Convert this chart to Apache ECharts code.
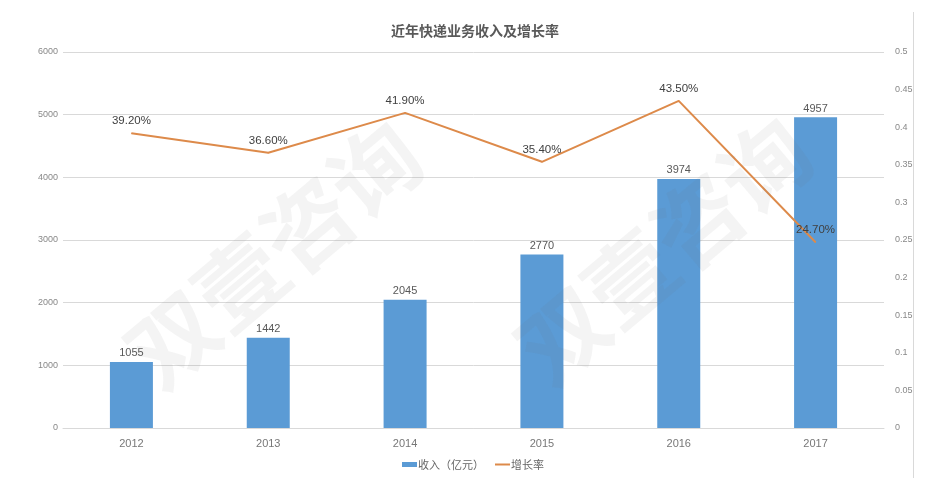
<!DOCTYPE html>
<html>
<head>
    <meta charset="utf-8">
    <title>近年快递业务收入及增长率</title>
    <script src="https://cdn.jsdelivr.net/npm/echarts@6/dist/echarts.min.js"></script>
    <style>
        html, body { margin: 0; padding: 0; background: #fff; }
    </style>
</head>
<body>
<div id="main" style="width: 936px;height: 499px;"></div>

<script type="text/javascript">
    var years = ['2012', '2013', '2014', '2015', '2016', '2017'];
    var income = [1055, 1442, 2045, 2770, 3974, 4957];
    var growth = [0.392, 0.366, 0.419, 0.354, 0.435, 0.247];
    var chartTitle = '近年快递业务收入及增长率';
    var incomeName = '收入（亿元）';
    var growthName = '增长率';
    var watermark = '双壹咨询';

    var latin = '"Liberation Sans", "Noto Sans CJK SC", sans-serif';
    var cjk = '"Noto Sans CJK SC", sans-serif';

    var myChart = echarts.init(document.getElementById('main'));
    myChart.setOption({
        animation: false,
        backgroundColor: '#fff',
        title: {
            text: chartTitle,
            left: 470,
            top: 19,
            textAlign: 'center',
            textStyle: {fontSize: 14, fontWeight: 'bold', color: '#595959', fontFamily: cjk}
        },
        legend: {
            left: 397,
            top: 454,
            itemGap: 10,
            itemWidth: 15,
            itemHeight: 5,
            textStyle: {fontSize: 11, color: '#666', fontFamily: cjk, padding: [0, 0, 0, -4]},
            data: [
                {name: incomeName, icon: 'rect'},
                {name: growthName, itemStyle: {opacity: 0}}
            ]
        },
        grid: {left: 63, right: 52, top: 52, bottom: 71},
        xAxis: {
            type: 'category',
            data: years,
            axisLine: {lineStyle: {color: '#d9d9d9'}},
            axisTick: {show: false},
            axisLabel: {fontSize: 11, color: '#777', margin: 10, fontFamily: latin}
        },
        yAxis: [
            {
                type: 'value',
                min: 0,
                max: 6000,
                interval: 1000,
                axisLine: {show: false},
                axisTick: {show: false},
                splitLine: {lineStyle: {color: '#d9d9d9'}},
                axisLabel: {
                    fontSize: 9,
                    color: '#888',
                    margin: 5,
                    padding: [2, 0, 0, 0],
                    fontFamily: latin,
                    formatter: function (v) {
                        return String(v);
                    }
                }
            },
            {
                type: 'value',
                min: 0,
                max: 0.5,
                interval: 0.05,
                axisLine: {show: false},
                axisTick: {show: false},
                splitLine: {show: false},
                axisLabel: {fontSize: 9, color: '#888', margin: 11, padding: [2, 0, 0, 0], fontFamily: latin}
            }
        ],
        series: [
            {
                name: incomeName,
                type: 'bar',
                data: income,
                barWidth: 43,
                itemStyle: {color: '#5B9BD5'},
                label: {
                    show: true,
                    position: 'top',
                    distance: 3,
                    fontSize: 11,
                    color: '#595959',
                    fontFamily: latin
                }
            },
            {
                name: growthName,
                type: 'line',
                yAxisIndex: 1,
                data: growth,
                showSymbol: true,
                symbol: 'circle',
                symbolSize: 1,
                lineStyle: {color: '#DD8A4A', width: 2},
                itemStyle: {color: '#DD8A4A'},
                label: {
                    show: true,
                    position: 'top',
                    distance: 6,
                    fontSize: 11.5,
                    color: '#404040',
                    fontFamily: latin,
                    formatter: function (p) {
                        return (p.value * 100).toFixed(2) + '%';
                    }
                }
            }
        ],
        graphic: [
            // 右侧竖线
            {
                type: 'line',
                shape: {x1: 913.5, y1: 12, x2: 913.5, y2: 478},
                style: {stroke: '#d9d9d9', lineWidth: 1}
            },
            // 水印
            {
                type: 'text',
                x: 274,
                y: 254,
                rotation: 0.7,
                z: 100,
                style: {
                    text: watermark,
                    fontSize: 88,
                    fontWeight: 'bold',
                    fontFamily: cjk,
                    fill: 'rgba(110,110,110,0.08)',
                    align: 'center',
                    verticalAlign: 'middle'
                }
            },
            {
                type: 'text',
                x: 664,
                y: 250,
                rotation: 0.7,
                z: 100,
                style: {
                    text: watermark,
                    fontSize: 88,
                    fontWeight: 'bold',
                    fontFamily: cjk,
                    fill: 'rgba(110,110,110,0.08)',
                    align: 'center',
                    verticalAlign: 'middle'
                }
            }
        ]
    });
</script>
</body>
</html>
